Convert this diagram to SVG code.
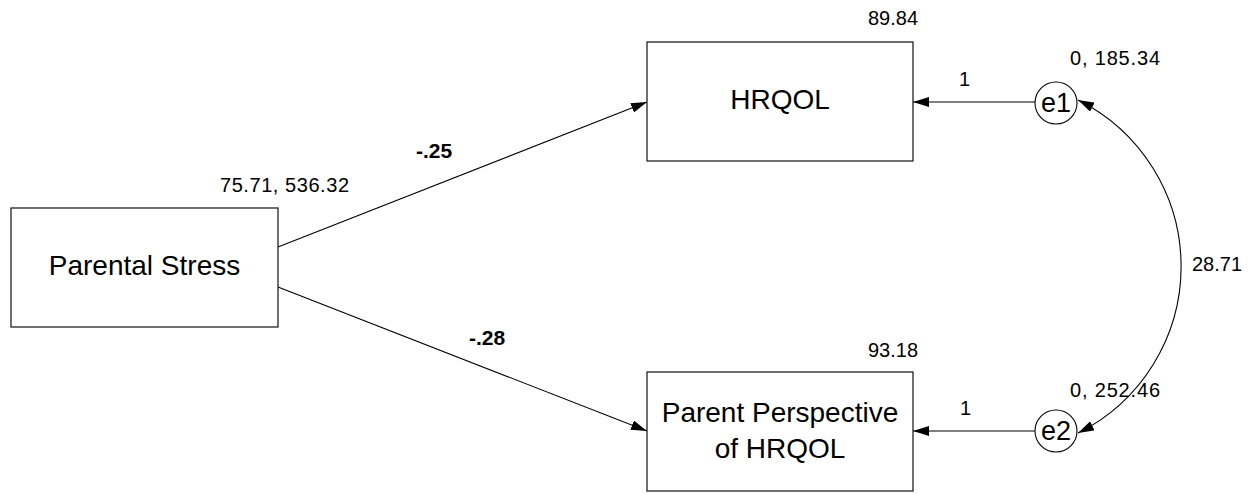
<svg xmlns="http://www.w3.org/2000/svg" width="1257" height="494" viewBox="0 0 1257 494">
<style>
.box{fill:#fff;stroke:#222;stroke-width:1.3}
.lbl{font-family:"Liberation Sans",Arial,sans-serif;font-size:28px;fill:#000;text-anchor:middle}
.elbl{font-family:"Liberation Sans",Arial,sans-serif;font-size:27px;fill:#000;text-anchor:middle}
.num{font-family:"Liberation Sans",Arial,sans-serif;font-size:20px;fill:#000}
.coef{font-family:"Liberation Sans",Arial,sans-serif;font-size:21px;font-weight:bold;fill:#000}
.conn{fill:none;stroke:#000;stroke-width:1.1}
</style>
<defs>
<marker id="ah" viewBox="0 0 16 10" refX="16" refY="5" markerWidth="16" markerHeight="10" markerUnits="userSpaceOnUse" orient="auto-start-reverse">
<path d="M0,0 L16,5 L0,10 Z" fill="#000"/>
</marker>
</defs>
<rect width="1257" height="494" fill="#fff"/>
<g id="connectors">
<line class="conn" x1="278" y1="247" x2="647" y2="102" marker-end="url(#ah)"/>
<line class="conn" x1="278" y1="287" x2="647" y2="431" marker-end="url(#ah)"/>
<line class="conn" x1="1035" y1="102" x2="913" y2="102" marker-end="url(#ah)"/>
<line class="conn" x1="1035" y1="431" x2="913" y2="431" marker-end="url(#ah)"/>
<path class="conn" d="M1078,100 A186,186 0 0 1 1078,433" marker-start="url(#ah)" marker-end="url(#ah)"/>
<text class="coef" x="416" y="158">-.25</text>
<text class="coef" x="469" y="345">-.28</text>
<text class="num" x="959" y="86">1</text>
<text class="num" x="960" y="415">1</text>
<text class="num" x="1192" y="271">28.71</text>
</g>
<g id="parental-stress">
<rect class="box" x="11" y="208" width="267" height="119"/>
<text class="lbl" x="144.5" y="275">Parental Stress</text>
<text class="num" x="220" y="192" textLength="129" lengthAdjust="spacing">75.71, 536.32</text>
</g>
<g id="hrqol">
<rect class="box" x="647" y="42" width="266" height="119"/>
<text class="lbl" x="780" y="109">HRQOL</text>
<text class="num" x="868" y="25">89.84</text>
</g>
<g id="parent-perspective">
<rect class="box" x="647" y="372" width="266" height="119"/>
<text class="lbl" x="780" y="422">Parent Perspective</text>
<text class="lbl" x="780" y="458">of HRQOL</text>
<text class="num" x="868" y="357">93.18</text>
</g>
<g id="e1">
<circle cx="1056" cy="103" r="21" fill="#fff" stroke="#000" stroke-width="1.1"/>
<text class="elbl" x="1056" y="112">e1</text>
<text class="num" x="1070" y="65" textLength="90" lengthAdjust="spacing">0, 185.34</text>
</g>
<g id="e2">
<circle cx="1056" cy="431" r="21" fill="#fff" stroke="#000" stroke-width="1.1"/>
<text class="elbl" x="1056" y="440">e2</text>
<text class="num" x="1070" y="397" textLength="90" lengthAdjust="spacing">0, 252.46</text>
</g>
</svg>
